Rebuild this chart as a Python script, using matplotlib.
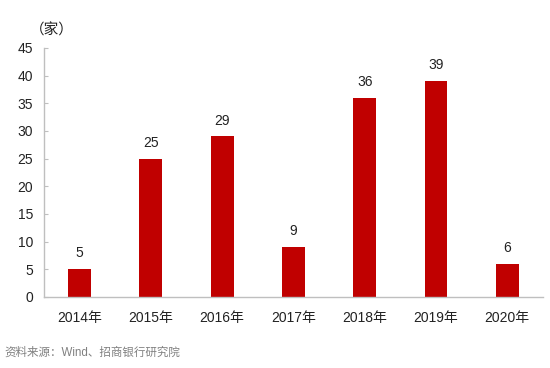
import matplotlib
matplotlib.use("Agg")
import matplotlib.pyplot as plt

plt.rcParams['font.family'] = ['Liberation Sans', 'Noto Sans CJK SC', 'DejaVu Sans']

years = ["2014年", "2015年", "2016年", "2017年", "2018年", "2019年", "2020年"]
counts = [5, 25, 29, 9, 36, 39, 6]
yticks = [0, 5, 10, 15, 20, 25, 30, 35, 40, 45]

fig = plt.figure(figsize=(5.5, 3.68), dpi=100)
ax = fig.add_axes([0.08, 0.193, 0.907, 0.677])
x = list(range(len(years)))
bars = ax.bar(x, counts, width=0.32, color="#C00000")
for xi, v in zip(x, counts):
    ax.text(xi, v + 1.6, str(v), ha="center", va="bottom", fontsize=10, color="#222222")

ax.set_xlim(-0.5, 6.5)
ax.set_ylim(0, 45)
ax.set_yticks(yticks)
ax.set_xticks(x)
ax.set_xticklabels(years)
for s in ["top", "right"]:
    ax.spines[s].set_visible(False)
for s in ["left", "bottom"]:
    ax.spines[s].set_color("#BFBFBF")
    ax.spines[s].set_linewidth(1.0)
ax.tick_params(axis="y", direction="in", length=3, color="#BFBFBF", labelsize=10, labelcolor="#222222", pad=8)
ax.tick_params(axis="x", length=0, labelsize=10, labelcolor="#222222", pad=10)

fig.text(0.055, 0.918, "（家）", fontsize=10.5, ha="left", va="center", color="#222222")
fig.text(0.008, 0.042, "资料来源：Wind、招商银行研究院", fontsize=8.3, ha="left", va="center", color="#808080")

fig.savefig("out.png", dpi=100)
